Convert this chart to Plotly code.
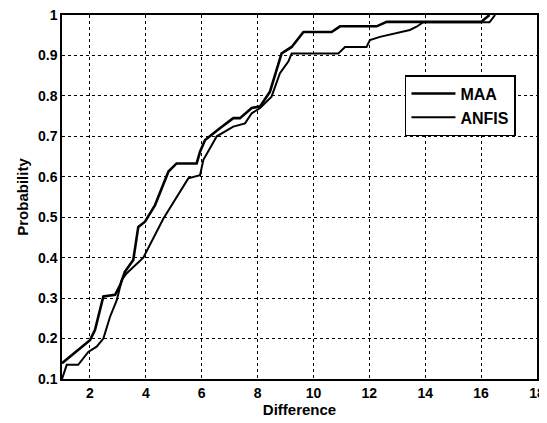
import plotly.graph_objects as go

maa_x = [1.0, 2.0, 2.18, 2.48, 2.9, 3.08, 3.25, 3.55, 3.73, 3.97, 4.33, 4.81, 5.1, 5.82, 5.94,
         6.12, 6.65, 7.13, 7.37, 7.79, 8.09, 8.44, 8.86, 9.22, 9.64, 10.65, 10.95, 12.26, 12.62,
         13.93, 16.0, 16.3]
maa_p = [0.139, 0.196, 0.221, 0.304, 0.308, 0.332, 0.365, 0.394, 0.476, 0.489, 0.53, 0.613, 0.633,
         0.633, 0.662, 0.691, 0.72, 0.745, 0.745, 0.77, 0.774, 0.81, 0.905, 0.921, 0.958, 0.958,
         0.972, 0.972, 0.983, 0.983, 0.983, 1.0]

# ANFIS curve
anfis_x = [1.0, 1.17, 1.58, 1.94, 2.24, 2.48, 2.72, 2.96, 3.14, 3.31, 3.91, 4.63, 5.52, 5.94, 6.06,
           6.54, 7.13, 7.55, 7.79, 8.09, 8.5, 8.8, 9.1, 9.22, 10.89, 11.13, 11.9, 12.02, 12.38,
           12.98, 13.45, 13.69, 13.93, 16.3, 16.5]
anfis_p = [0.10, 0.135, 0.135, 0.167, 0.18, 0.2, 0.254, 0.295, 0.345, 0.361, 0.40, 0.497, 0.596,
           0.604, 0.642, 0.70, 0.724, 0.732, 0.757, 0.77, 0.798, 0.856, 0.885, 0.905, 0.905, 0.921,
           0.921, 0.938, 0.946, 0.955, 0.963, 0.971, 0.982, 0.982, 1.0]

x_ticks = [2, 4, 6, 8, 10, 12, 14, 16, 18]
y_ticks = [0.1, 0.2, 0.3, 0.4, 0.5, 0.6, 0.7, 0.8, 0.9, 1.0]
y_ticktext = ["0.1", "0.2", "0.3", "0.4", "0.5", "0.6", "0.7", "0.8", "0.9", "1"]

fig = go.Figure()
fig.add_trace(go.Scatter(x=maa_x, y=maa_p, mode="lines", name="MAA",
                         line=dict(color="black", width=2.6)))
fig.add_trace(go.Scatter(x=anfis_x, y=anfis_p, mode="lines", name="ANFIS",
                         line=dict(color="black", width=2)))

font = dict(family="Liberation Sans, Arial, sans-serif", size=14, color="black", weight="bold")

axis_common = dict(showline=True, linecolor="black", linewidth=1.5, mirror=True,
                   showgrid=True, gridcolor="black", gridwidth=1, griddash="3px,3px",
                   ticks="", zeroline=False, tickfont=font, automargin=False,
                   ticklabeloverflow="allow")

fig.update_xaxes(range=[1, 18], tickvals=x_ticks,
                 title=dict(text="Difference", font=dict(font, size=15), standoff=4),
                 **axis_common)
fig.update_yaxes(range=[0.1, 1.0], tickvals=y_ticks, ticktext=y_ticktext,
                 title=dict(text="Probability", font=dict(font, size=15), standoff=6), **axis_common)

fig.update_layout(
    width=539, height=415,
    margin=dict(l=54, r=10, t=7, b=44),
    paper_bgcolor="white", plot_bgcolor="white",
    font=font,
    legend=dict(x=0.722, y=0.835, xanchor="left", yanchor="top",
                bgcolor="white", bordercolor="black", borderwidth=1.5,
                font=dict(font, size=16), itemwidth=44, tracegroupgap=0),
)

fig.write_html("out.html")
